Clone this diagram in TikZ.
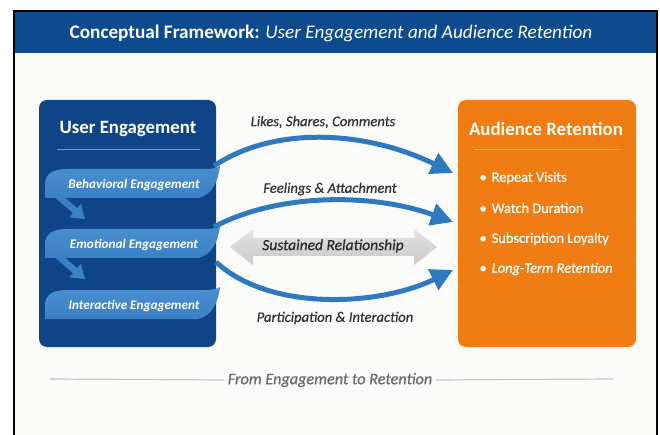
\documentclass[tikz,border=0pt]{standalone}
\usepackage{fontspec}
\setmainfont{Carlito}
\newfontfamily\semifont{Carlito}[FakeBold=0.8]
\usetikzlibrary{arrows.meta}

\definecolor{hdrblue}{HTML}{0D4A8E}
\definecolor{boxblue}{HTML}{0F4587}
\definecolor{ribblue}{HTML}{3A80C4}
\definecolor{riblight}{HTML}{4A90D0}
\definecolor{arrblue}{HTML}{2F79BF}
\definecolor{retorange}{HTML}{F07C14}
\definecolor{lbltext}{HTML}{333333}
\definecolor{paper}{HTML}{FBFBFA}

\tikzset{
  panel/.style={rounded corners=8pt, draw=none},
  paneltitle/.style={text=white, font=\fontsize{18.8}{22}\selectfont\bfseries},
  ribbontext/.style={text=white, font=\fontsize{13.2}{16}\selectfont\bfseries\itshape},
  flowlabel/.style={text=lbltext, font=\fontsize{14.6}{17}\selectfont\semifont\itshape},
  bulletitem/.style={text=white, anchor=west, font=\fontsize{14.4}{17}\selectfont\semifont},
  flowarrow/.style={draw=arrblue, line width=5pt,
    -{Triangle[length=22pt,width=22pt]}},
  steparrow/.style={draw=ribblue, line width=6.5pt,
    -{Triangle[length=13pt,width=17pt]}},
}

\begin{document}
\begin{tikzpicture}[x=1pt,y=-1pt]
\useasboundingbox (0,0) rectangle (660,435);
\fill[white] (0,0) rectangle (660,435);

% page area with frame
\fill[paper] (14,11) rectangle (657,435);
\fill[hdrblue] (14,11) rectangle (657,53);
\draw[black, line width=1.2pt] (14,435) -- (14,11) -- (657,11) -- (657,435);
\node[text=white, font=\fontsize{19.2}{23}\selectfont] (title) at (331,33)
  {\textbf{Conceptual Framework:} \textit{User Engagement and Audience Retention}};

% left panel
\fill[boxblue, panel] (39,100) rectangle (216,347);
\node[paneltitle] (uetitle) at (128,129) {User Engagement};
\draw[color=white!45!boxblue, line width=1pt] (57,150) -- (200,150);

% ribbons
\foreach \n/\t/\txt in {beh/168/Behavioral Engagement, emo/228/Emotional Engagement, int/289/Interactive Engagement}{
  \shade[top color=riblight, bottom color=ribblue] (45,\t+30) -- (45,\t+17)
     .. controls (45,\t+5) and (53,\t+1) .. (68,\t+1)
     -- (205,\t+1) .. controls (212,\t+1) and (217,\t) .. (220,\t-2)
     .. controls (218,\t+14) and (212,\t+27) .. (198,\t+30) -- cycle;
  \node[ribbontext] (\n) at (134,\t+17) {\txt};
}

% steps between ribbons
\coordinate (s1a) at (58,196);
\coordinate (s1b) at (85,219);
\coordinate (s2a) at (58,256);
\coordinate (s2b) at (85,279);
\draw[steparrow] (s1a) -- (s1b);
\draw[steparrow] (s2a) -- (s2b);

% right panel
\fill[retorange, panel] (458,100) rectangle (636,347);
\node[paneltitle] (artitle) at (546,129) {Audience Retention};
\draw[color=white!35!retorange, line width=1pt] (474,150) -- (620,150);
\node[bulletitem] (b1) at (476,178) {\textbullet\hspace{5pt}Repeat Visits};
\node[bulletitem] (b2) at (476,208) {\textbullet\hspace{5pt}Watch Duration};
\node[bulletitem] (b3) at (476,239) {\textbullet\hspace{5pt}Subscription Loyalty};
\node[bulletitem] (b4) at (476,269) {\textbullet\hspace{5pt}\textit{Long-Term Retention}};

% flows from engagement to retention
\coordinate (f1s) at (214,166);
\coordinate (f1e) at (453,173);
\coordinate (f2s) at (214,227);
\coordinate (f2e) at (453,222);
\coordinate (f3s) at (216,262);
\coordinate (f3e) at (453,270);
\draw[flowarrow] (f1s) .. controls (270,128) and (360,128) .. (f1e);
\draw[flowarrow] (f2s) .. controls (275,194) and (370,192) .. (f2e);
\draw[flowarrow] (f3s) .. controls (270,312) and (380,306) .. (f3e);
\node[flowlabel] (l1) at (323,122) {Likes, Shares, Comments};
\node[flowlabel] (l2) at (330,189) {Feelings \& Attachment};
\node[flowlabel] (l3) at (335,318) {Participation \& Interaction};

% two-way relationship arrow
\shade[top color=gray!22, bottom color=gray!42]
  (230,247) -- (253,229) -- (253,238) -- (414,238) -- (414,229) -- (437,247)
  -- (414,265) -- (414,256) -- (253,256) -- (253,265) -- cycle;
\node[text=lbltext!85!black, font=\fontsize{15.5}{18}\selectfont\semifont\itshape] (sust) at (333,246) {Sustained Relationship};

% footer
\node[text=gray!85!black, font=\fontsize{16.2}{19}\selectfont\semifont\itshape] (foot) at (330,380) {From Engagement to Retention};
\coordinate (fl) at (50,379);
\coordinate (fr) at (613,379);
\draw[gray!45, line width=1.2pt] (fl) -- (foot.west);
\draw[gray!45, line width=1.2pt] (foot.east) -- (fr);
\end{tikzpicture}
\end{document}
